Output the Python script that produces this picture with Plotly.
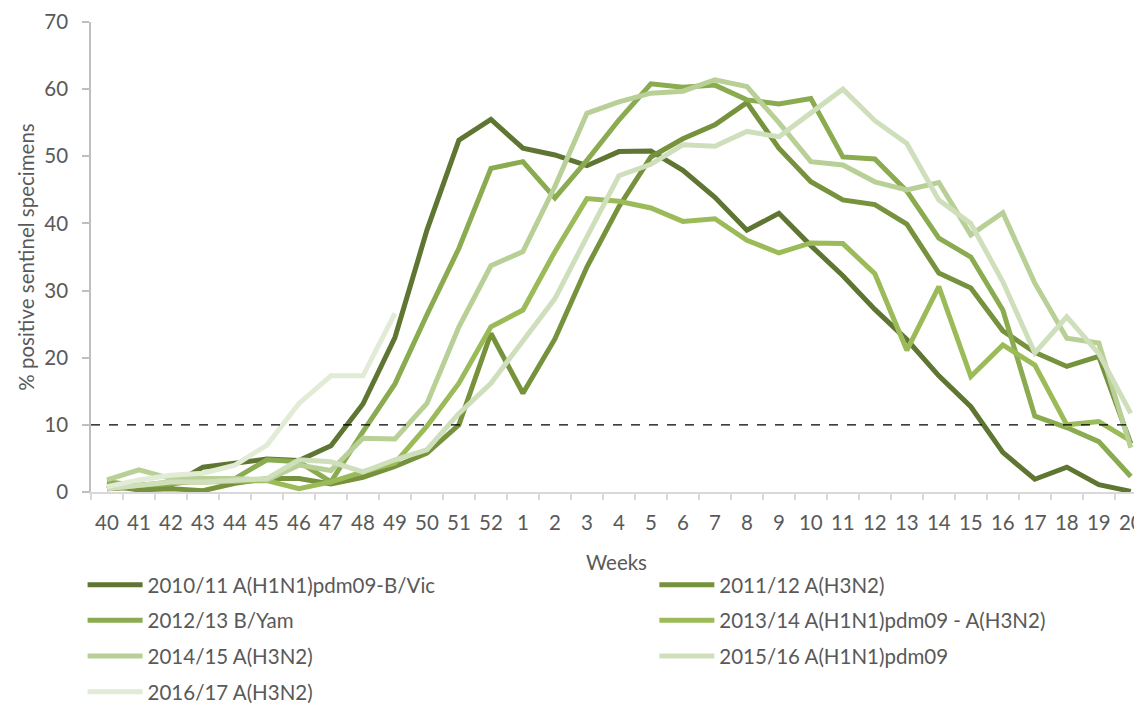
import plotly.graph_objects as go

weeks = [str(w) for w in list(range(40, 53)) + list(range(1, 21))]

s2010 = [0.5, 0.7, 1.0, 3.7, 4.3, 4.9, 4.7, 6.9, 13.1, 23.0, 39.0, 52.4, 55.5, 51.2, 50.2, 48.6, 50.7, 50.8, 47.9, 43.9, 39.0, 41.5, 36.7, 32.2, 27.2, 22.7, 17.3, 12.7, 5.9, 1.9, 3.7, 1.1, 0.1]
s2011 = [1.0, 0.3, 0.5, 0.2, 1.3, 2.0, 2.0, 1.2, 2.2, 3.8, 5.8, 10.0, 23.6, 14.7, 22.8, 33.5, 42.5, 49.9, 52.6, 54.7, 58.0, 51.2, 46.2, 43.5, 42.8, 39.9, 32.6, 30.4, 24.0, 20.8, 18.7, 20.2, 7.2]
s2012 = [1.5, 1.0, 1.2, 1.8, 2.0, 4.8, 4.5, 1.5, 9.0, 16.1, 26.4, 36.3, 48.2, 49.2, 43.8, 49.4, 55.4, 60.8, 60.3, 60.6, 58.4, 57.8, 58.6, 49.9, 49.6, 44.8, 37.8, 35.0, 27.1, 11.3, 9.6, 7.5, 2.3]
s2013 = [0.5, 1.0, 1.5, 1.5, 1.6, 1.7, 0.5, 1.5, 3.0, 4.3, 9.8, 16.2, 24.6, 27.1, 35.8, 43.7, 43.3, 42.3, 40.3, 40.7, 37.5, 35.6, 37.1, 37.0, 32.5, 21.1, 30.6, 17.2, 21.9, 18.9, 10.0, 10.5, 7.6]
s2014 = [1.8, 3.3, 2.0, 2.0, 2.0, 1.8, 4.0, 3.2, 8.0, 7.9, 13.2, 24.6, 33.7, 35.8, 45.5, 56.4, 58.1, 59.4, 59.7, 61.4, 60.4, 55.0, 49.2, 48.7, 46.2, 45.0, 46.1, 38.3, 41.6, 31.1, 22.9, 22.2, 6.6]
s2015 = [0.5, 1.0, 1.5, 1.5, 1.8, 2.0, 4.8, 4.5, 3.0, 4.8, 6.3, 11.7, 16.2, 22.6, 28.8, 38.0, 47.1, 48.8, 51.7, 51.5, 53.7, 52.9, 56.5, 60.0, 55.3, 51.9, 43.5, 40.0, 31.3, 20.7, 26.1, 20.6, 11.7]
s2016 = [0.8, 1.8, 2.5, 2.8, 4.0, 7.0, 13.2, 17.3, 17.3, 26.6]

names = ["2010/11 A(H1N1)pdm09-B/Vic", "2011/12 A(H3N2)", "2012/13 B/Yam",
         "2013/14 A(H1N1)pdm09 - A(H3N2)", "2014/15 A(H3N2)", "2015/16 A(H1N1)pdm09",
         "2016/17 A(H3N2)"]
series = [s2010, s2011, s2012, s2013, s2014, s2015, s2016]
colors = ["#5f7532", "#77923d", "#8aab4f", "#9bbb59", "#b8cf96", "#cfdfbc", "#e2ebd6"]
legends = ["legend", "legend2", "legend", "legend2", "legend", "legend2", "legend"]

THRESHOLD = 10

FONT = "Lato"
TXT = "#595959"
FS = 20.5

fig = go.Figure()
for i, (nm, vals, col, lg) in enumerate(zip(names, series, colors, legends)):
    fig.add_trace(go.Scatter(
        x=weeks[:len(vals)], y=vals, name=nm, mode="lines",
        line=dict(color=col, width=5, shape="linear"),
        legend=lg, legendgroup=nm,
    ))

fig.add_shape(type="line", xref="paper", x0=0, x1=1, yref="y", y0=THRESHOLD, y1=THRESHOLD,
              line=dict(color="black", width=1.2, dash="dash"), layer="above")

leg_common = dict(
    orientation="v", yanchor="top", xanchor="left", y=-0.155,
    font=dict(family=FONT, size=FS, color=TXT),
    bgcolor="rgba(0,0,0,0)", tracegroupgap=6, itemwidth=55,
    traceorder="grouped",
)

fig.update_layout(
    width=1134, height=696,
    margin=dict(l=83, r=0, t=14, b=212, autoexpand=False),
    plot_bgcolor="white", paper_bgcolor="white",
    font=dict(family=FONT, size=FS, color=TXT),
    showlegend=True,
    legend=dict(x=-0.008, **leg_common),
    legend2=dict(x=0.536, **leg_common),
    xaxis=dict(
        type="category", range=[-0.5, 32.35], tickson="boundaries",
        showline=True, linecolor="#d9d9d9", linewidth=1.5,
        ticks="outside", ticklen=6, tickcolor="#d9d9d9", tickwidth=1.5,
        showgrid=False, zeroline=False, ticklabelstandoff=12, tickangle=0,
        tickfont=dict(family=FONT, size=FS, color=TXT),
        title=dict(text="Weeks", standoff=22, font=dict(family=FONT, size=FS, color=TXT)),
    ),
    yaxis=dict(
        range=[0, 70], dtick=10, tick0=0,
        showline=True, linecolor="#bfbfbf", linewidth=1.5,
        ticks="outside", ticklen=7, tickcolor="#bfbfbf", tickwidth=1.5,
        showgrid=False, zeroline=False, ticklabelstandoff=10,
        tickfont=dict(family=FONT, size=FS, color=TXT),
        title=dict(text="% positive sentinel specimens", standoff=4,
                   font=dict(family=FONT, size=FS, color=TXT)),
    ),
)

fig.write_html("out.html")
